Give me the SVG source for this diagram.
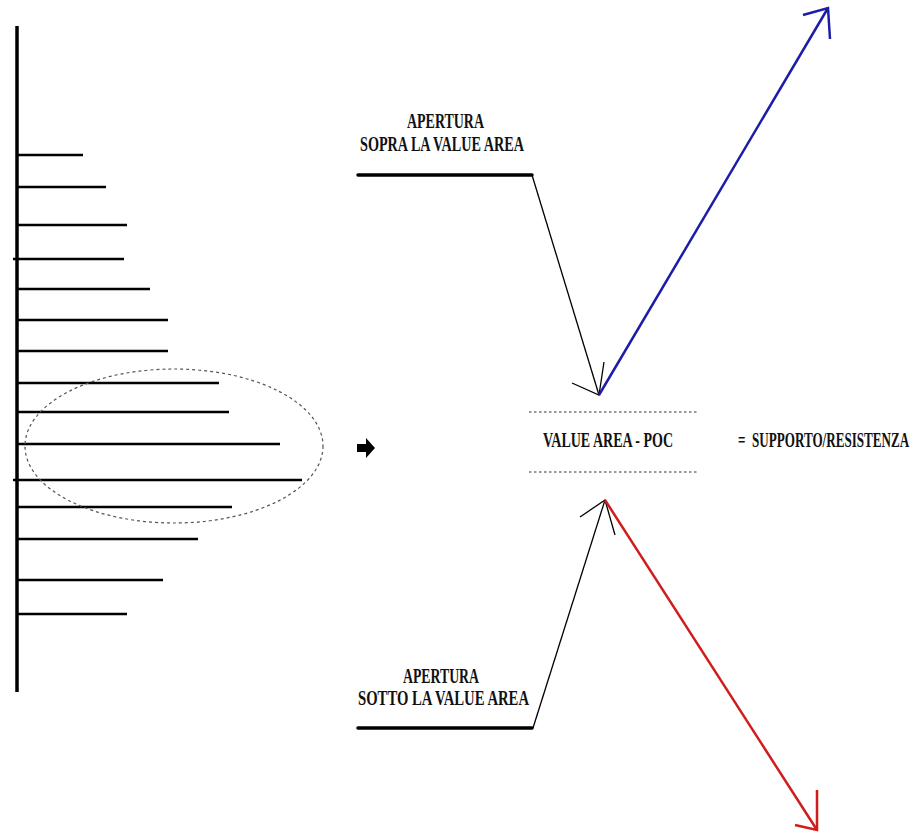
<svg xmlns="http://www.w3.org/2000/svg" width="924" height="836" viewBox="0 0 924 836">
<style>
.bg{fill:#ffffff}
.axis{stroke:#000;stroke-width:3.5;fill:none}
.bar{stroke:#000;stroke-width:2.5;fill:none}
.base{stroke:#000;stroke-width:3.5;fill:none;stroke-linecap:round}
.thin{stroke:#000;stroke-width:1.3;fill:none}
.blue{stroke:#1c1ca8;stroke-width:2.5;fill:none}
.red{stroke:#d01c1c;stroke-width:2.5;fill:none}
.dot{stroke:#333;stroke-width:1;stroke-dasharray:2.5,2.5;fill:none}
.ell{stroke:#555;stroke-width:1.2;stroke-dasharray:3,3;fill:none}
.t{font-family:"Liberation Serif","Times New Roman",serif;font-weight:bold;font-size:20px;fill:#111}
</style>
<rect class="bg" x="0" y="0" width="924" height="836"/>
<g id="profile">
<line class="axis" x1="17" y1="26" x2="17" y2="692"/>
<line class="bar" x1="17" y1="155" x2="83" y2="155"/>
<line class="bar" x1="17" y1="187" x2="106" y2="187"/>
<line class="bar" x1="17" y1="225" x2="127" y2="225"/>
<line class="bar" x1="13" y1="259" x2="124" y2="259"/>
<line class="bar" x1="17" y1="289" x2="150" y2="289"/>
<line class="bar" x1="17" y1="320" x2="168" y2="320"/>
<line class="bar" x1="17" y1="351" x2="168" y2="351"/>
<line class="bar" x1="17" y1="383" x2="219" y2="383"/>
<line class="bar" x1="17" y1="412" x2="229" y2="412"/>
<line class="bar" x1="17" y1="444" x2="280" y2="444"/>
<line class="bar" x1="13" y1="480" x2="302" y2="480"/>
<line class="bar" x1="17" y1="507" x2="232" y2="507"/>
<line class="bar" x1="17" y1="539" x2="198" y2="539"/>
<line class="bar" x1="17" y1="580" x2="163" y2="580"/>
<line class="bar" x1="17" y1="614" x2="127" y2="614"/>
</g>
<g id="value-area-ellipse">
<ellipse class="ell" cx="174" cy="446" rx="149" ry="77"/>
</g>
<g id="pointer">
<path d="M357 444 L366 444 L366 438 L375 448 L366 458 L366 452 L357 452 Z" fill="#000"/>
</g>
<g id="open-above">
<text class="t" x="407" y="128" textLength="77" lengthAdjust="spacingAndGlyphs">APERTURA</text>
<text class="t" x="360" y="151" textLength="164" lengthAdjust="spacingAndGlyphs">SOPRA LA VALUE AREA</text>
<line class="base" x1="358" y1="175" x2="532" y2="175"/>
</g>
<g id="value-area">
<line class="dot" x1="529" y1="412" x2="698" y2="412"/>
<text class="t" x="543" y="447" textLength="130" lengthAdjust="spacingAndGlyphs">VALUE AREA - POC</text>
<line class="dot" x1="529" y1="472" x2="698" y2="472"/>
</g>
<g id="equals-label">
<text class="t" transform="translate(738,447) scale(0.655,1)" x="0" y="0" xml:space="preserve">=  SUPPORTO/RESISTENZA</text>
</g>
<g id="open-below">
<text class="t" x="403" y="683" textLength="76" lengthAdjust="spacingAndGlyphs">APERTURA</text>
<text class="t" x="358" y="705" textLength="171" lengthAdjust="spacingAndGlyphs">SOTTO LA VALUE AREA</text>
<line class="base" x1="358" y1="728" x2="532" y2="728"/>
</g>
<g id="connectors">
<polyline class="thin" points="532,175 599,395"/>
<polyline class="thin" points="572,383 599,395 604,362"/>
<polyline class="blue" points="599,395 828,8"/>
<polyline class="blue" points="803,15 828,8 830,39"/>
<polyline class="thin" points="533,728 605,500"/>
<polyline class="thin" points="580,517 605,500 615,535"/>
<polyline class="red" points="605,500 817,830"/>
<polyline class="red" points="817,790 817,830 795,825"/>
</g>
</svg>
